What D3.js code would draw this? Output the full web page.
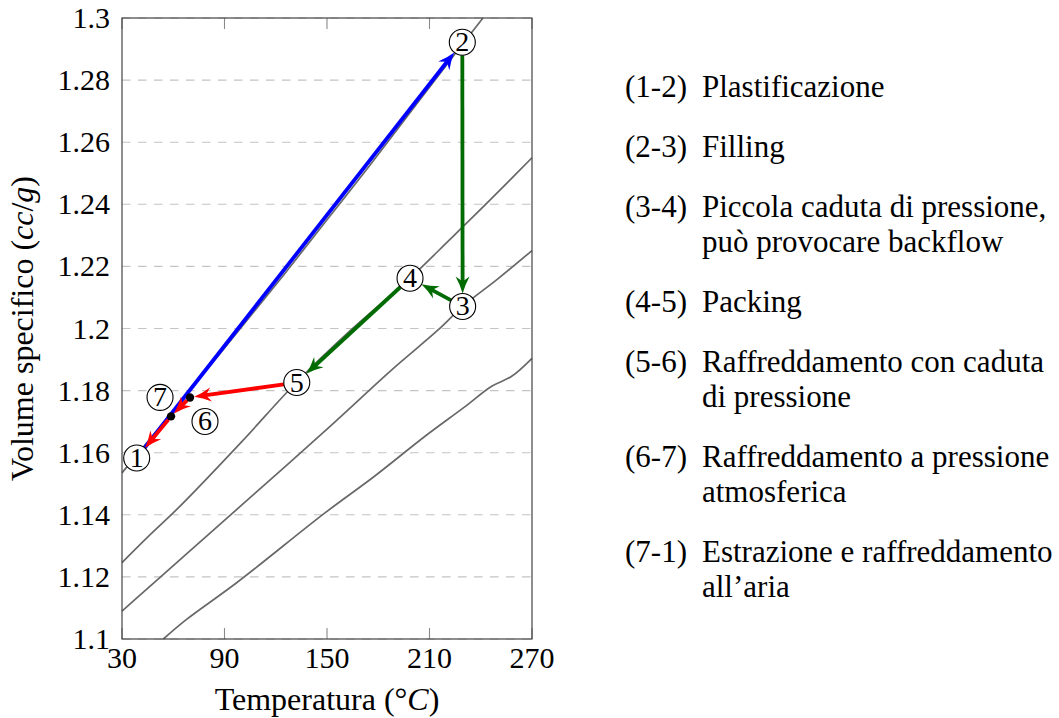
<!DOCTYPE html>
<html>
<head>
<meta charset="utf-8">
<script src="https://cdn.jsdelivr.net/npm/d3@7"></script>
</head>
<body style="margin:0">
<div id="chart"></div>
<script>
// axis ticks
var xTicks = [30, 90, 150, 210, 270];
var yTicks = [1.1, 1.12, 1.14, 1.16, 1.18, 1.2, 1.22, 1.24, 1.26, 1.28, 1.3];
var yTickLabels = ["1.1", "1.12", "1.14", "1.16", "1.18", "1.2", "1.22", "1.24", "1.26", "1.28", "1.3"];

// pvT isobars, [T (°C), v (cc/g)]
var isobarAtm = [[30, 1.1535], [50, 1.1668], [75, 1.1835], [100, 1.2005], [125, 1.2175], [150, 1.2350], [175, 1.2525], [200, 1.2705], [225, 1.2885], [241.3, 1.3]];
var isobarLow = [[30, 1.1246], [45, 1.1328], [64, 1.1428], [100, 1.1635], [132, 1.1826], [165, 1.2000], [198.6, 1.2162], [222, 1.2287], [245.5, 1.2414], [270, 1.2550]];
var isobarMid = [[30, 1.1090], [45, 1.1163], [64, 1.1256], [100, 1.1431], [151.8, 1.1685], [187.9, 1.1867], [215.2, 1.1996], [229.4, 1.2071], [250, 1.2160], [270, 1.2251]];
var isobarHigh = [[54.2, 1.1000], [67.8, 1.1063], [97.1, 1.1181], [148.8, 1.1406], [178, 1.1525], [207.4, 1.1653], [230, 1.1745], [246.4, 1.1814], [258.1, 1.1846], [270, 1.1904]];
var isobars = [isobarAtm, isobarLow, isobarMid, isobarHigh];

// points of the moulding cycle
var cycleNames = ["1", "2", "3", "4", "5", "6", "7"];
var cycleT = [38.6, 229.2, 229.4, 198.6, 132.3, 69.8, 58.7];
var cycleV = [1.1583, 1.2922, 1.2071, 1.2162, 1.1826, 1.1778, 1.1717];

// transformations (from, to)
var stepFrom = ["1", "2", "3", "4", "5", "6", "7"];
var stepTo   = ["2", "3", "4", "5", "6", "7", "1"];

// legend text
var legendKeys = ["(1-2)", "(2-3)", "(3-4)", "(4-5)", "(5-6)", "(6-7)", "(7-1)"];
var legendTexts = [
  ["Plastificazione"],
  ["Filling"],
  ["Piccola caduta di pressione,", "può provocare backflow"],
  ["Packing"],
  ["Raffreddamento con caduta", "di pressione"],
  ["Raffreddamento a pressione", "atmosferica"],
  ["Estrazione e raffreddamento", "all’aria"]
];

// ---- styles / layout
var serif = "'Liberation Serif'";
var stepColor = {"1": "#0000ff", "2": "#006b00", "3": "#006b00", "4": "#006b00", "5": "#ff0000", "6": "#ff0000", "7": "#ff0000"};
var dotNodes = ["6", "7"];                       // drawn as small black dots
var labelShift = {"6": [15, 24], "7": [-11, -19]};  // where their circled label goes
var nodeR = 13, dotR = 4.2;
var headL = 17, headW = 14;

var width = 1059, height = 718;
var margin = {left: 122, top: 18, right: 527, bottom: 79};
var innerWidth = width - margin.left - margin.right;    // 410
var innerHeight = height - margin.top - margin.bottom;  // 621

var x = d3.scaleLinear().domain([30, 270]).range([margin.left, margin.left + innerWidth]);
var y = d3.scaleLinear().domain([1.1, 1.3]).range([margin.top + innerHeight, margin.top]);

var svg = d3.select("#chart").append("svg")
  .attr("width", width)
  .attr("height", height)
  .style("font-family", serif);

//horizontal dashed grid
svg.selectAll("line.yGrid")
  .data(yTicks)
  .enter()
  .append("line")
  .attr("class", "yGrid")
  .attr("x1", x(30)).attr("x2", x(270))
  .attr("y1", d => y(d)).attr("y2", d => y(d))
  .attr("stroke", "#c4c4c4").attr("stroke-width", 1.1).attr("stroke-dasharray", "8.5,7.5");

//isobars (cut at the plot edges by their data range)
var line = d3.line()
  .curve(d3.curveCatmullRom)
  .x(d => x(d[0]))
  .y(d => y(d[1]));

svg.selectAll("path.isobar")
  .data(isobars)
  .enter()
  .append("path")
  .attr("class", "isobar")
  .attr("d", d => line(d))
  .attr("fill", "none")
  .attr("stroke", "#686868")
  .attr("stroke-width", 1.7);

//x ticks, top and bottom, pointing inwards
svg.selectAll("line.xTickB")
  .data(xTicks)
  .enter()
  .append("line")
  .attr("class", "xTickB")
  .attr("x1", d => x(d)).attr("x2", d => x(d))
  .attr("y1", y(1.1)).attr("y2", y(1.1) - 11)
  .attr("stroke", "#8a8a8a").attr("stroke-width", 1.1);
svg.selectAll("line.xTickT")
  .data(xTicks)
  .enter()
  .append("line")
  .attr("class", "xTickT")
  .attr("x1", d => x(d)).attr("x2", d => x(d))
  .attr("y1", y(1.3)).attr("y2", y(1.3) + 11)
  .attr("stroke", "#8a8a8a").attr("stroke-width", 1.1);

//frame
svg.append("rect")
  .attr("x", x(30)).attr("y", y(1.3))
  .attr("width", innerWidth)
  .attr("height", innerHeight)
  .attr("fill", "none")
  .attr("stroke", "#444")
  .attr("stroke-width", 1.2);

//tick labels
svg.selectAll("text.xLabel")
  .data(xTicks)
  .enter()
  .append("text")
  .attr("class", "xLabel")
  .attr("x", d => x(d))
  .attr("y", y(1.1) + 29)
  .attr("text-anchor", "middle")
  .style("font-family", serif)
  .style("font-size", "30px")
  .text(d => d);

svg.selectAll("text.yLabel")
  .data(yTicks)
  .enter()
  .append("text")
  .attr("class", "yLabel")
  .attr("x", x(30) - 12)
  .attr("y", d => y(d) + 10)
  .attr("text-anchor", "end")
  .style("font-family", serif)
  .style("font-size", "30px")
  .text((d, i) => yTickLabels[i]);

//axis titles
var xTitle = svg.append("text")
  .attr("x", margin.left + innerWidth / 2)
  .attr("y", margin.top + innerHeight + 71)
  .attr("text-anchor", "middle")
  .style("font-family", serif)
  .style("font-size", "32px");
xTitle.append("tspan").text("Temperatura (°");
xTitle.append("tspan").style("font-style", "italic").text("C");
xTitle.append("tspan").text(")");

var yTitle = svg.append("text")
  .attr("transform", "translate(33," + (margin.top + innerHeight / 2) + ") rotate(-90)")
  .attr("text-anchor", "middle")
  .style("font-family", serif)
  .style("font-size", "32px");
yTitle.append("tspan").text("Volume specifico (");
yTitle.append("tspan").style("font-style", "italic").text("cc");
yTitle.append("tspan").text("/");
yTitle.append("tspan").style("font-style", "italic").text("g");
yTitle.append("tspan").text(")");

//cycle
function nodePos (name) {
  var k = cycleNames.indexOf(name);
  return [x(cycleT[k]), y(cycleV[k])];
}
function nodeRadius (name) { return dotNodes.indexOf(name) >= 0 ? dotR : nodeR; }

function headPath () {
  return "M0,0 Q" + (-0.5 * headL) + "," + (-0.17 * headW) + " " + (-headL) + "," + (-headW / 2) +
         " L" + (-0.7 * headL) + ",0 L" + (-headL) + "," + (headW / 2) +
         " Q" + (-0.5 * headL) + "," + (0.17 * headW) + " 0,0 Z";
}

stepFrom.forEach(function (from, i) {
  var a = nodePos(from), b = nodePos(stepTo[i]);
  var dx = b[0] - a[0], dy = b[1] - a[1];
  var len = Math.sqrt(dx * dx + dy * dy);
  var ux = dx / len, uy = dy / len;
  var ra = nodeRadius(from), rb = nodeRadius(stepTo[i]);
  var sx = a[0] + ux * ra, sy = a[1] + uy * ra;
  var ex = b[0] - ux * rb, ey = b[1] - uy * rb;
  var col = stepColor[from];
  svg.append("line")
    .attr("x1", sx).attr("y1", sy)
    .attr("x2", ex - ux * headL * 0.6).attr("y2", ey - uy * headL * 0.6)
    .attr("stroke", col)
    .attr("stroke-width", 3.8);
  svg.append("path")
    .attr("d", headPath())
    .attr("transform", "translate(" + ex + "," + ey + ") rotate(" + (Math.atan2(uy, ux) * 180 / Math.PI) + ")")
    .attr("fill", col);
});

cycleNames.forEach(function (name) {
  var p = nodePos(name);
  var c = p;
  if (dotNodes.indexOf(name) >= 0) {
    svg.append("circle").attr("cx", p[0]).attr("cy", p[1]).attr("r", dotR).attr("fill", "#000");
    c = [p[0] + labelShift[name][0], p[1] + labelShift[name][1]];
  }
  svg.append("circle")
    .attr("cx", c[0]).attr("cy", c[1]).attr("r", nodeR)
    .attr("fill", "#fff").attr("stroke", "#000").attr("stroke-width", 1.1);
  svg.append("text")
    .attr("x", c[0]).attr("y", c[1] + 9)
    .attr("text-anchor", "middle")
    .style("font-family", serif)
    .style("font-size", "28px")
    .text(name);
});

//legend on the right
var baseY = 97, itemGap = 60, lineGap = 35, extra = 0;
legendKeys.forEach(function (key, i) {
  var by = baseY + i * itemGap + extra * lineGap;
  svg.append("text")
    .attr("x", 687).attr("y", by)
    .attr("text-anchor", "end")
    .style("font-family", serif)
    .style("font-size", "31px")
    .text(key);
  legendTexts[i].forEach(function (t, j) {
    svg.append("text")
      .attr("x", 702).attr("y", by + j * lineGap)
      .style("font-family", serif)
      .style("font-size", "31px")
      .text(t);
  });
  extra += legendTexts[i].length - 1;
});
</script>
</body>
</html>
